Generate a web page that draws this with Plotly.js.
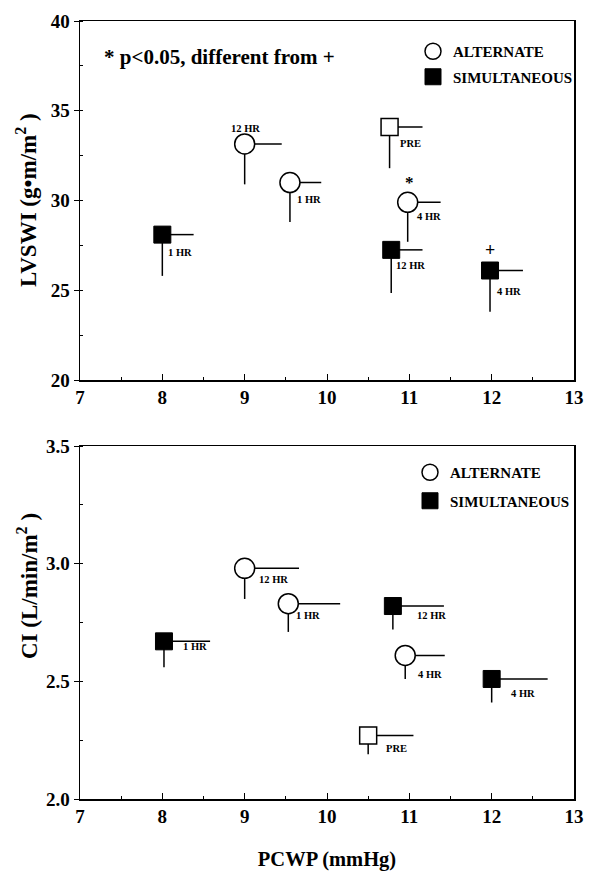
<!DOCTYPE html>
<html>
<head>
<meta charset="utf-8">
<script src="https://cdn.plot.ly/plotly-3.0.1.min.js"></script>
<style>html,body{margin:0;padding:0;background:#fff;}#chart{width:590px;height:871px;}</style>
</head>
<body>
<div id="chart"></div>
<script>
// ---------- DATA ----------
// Top panel: LVSWI vs PCWP
const lvAltPCWP    = [9.0, 9.55, 10.98];
const lvAltLVSWI   = [33.15, 31.0, 29.9];
const lvAltPCWPErr = [0.45, 0.38, 0.40];
const lvAltLVSWIErr= [2.25, 2.2, 2.2];
const lvAltLabels  = ['12 HR', '1 HR', '4 HR'];

const lvSimPCWP    = [8.0, 10.78, 11.98];
const lvSimLVSWI   = [28.1, 27.25, 26.1];
const lvSimPCWPErr = [0.38, 0.38, 0.40];
const lvSimLVSWIErr= [2.3, 2.4, 2.3];
const lvSimLabels  = ['1 HR', '12 HR', '4 HR'];

const lvPrePCWP    = [10.76];
const lvPreLVSWI   = [34.1];
const lvPrePCWPErr = [0.40];
const lvPreLVSWIErr= [2.3];
const lvPreLabels  = ['PRE'];

// Bottom panel: CI vs PCWP
const ciAltPCWP    = [9.0, 9.53, 10.95];
const ciAltCI      = [2.98, 2.83, 2.61];
const ciAltPCWPErr = [0.66, 0.63, 0.48];
const ciAltCIErr   = [0.13, 0.12, 0.10];
const ciAltLabels  = ['12 HR', '1 HR', '4 HR'];

const ciSimPCWP    = [8.02, 10.8, 12.0];
const ciSimCI      = [2.67, 2.82, 2.51];
const ciSimPCWPErr = [0.56, 0.62, 0.68];
const ciSimCIErr   = [0.11, 0.10, 0.10];
const ciSimLabels  = ['1 HR', '12 HR', '4 HR'];

const ciPrePCWP    = [10.5];
const ciPreCI      = [2.27];
const ciPrePCWPErr = [0.55];
const ciPreCIErr   = [0.08];
const ciPreLabels  = ['PRE'];

const xTicks = [7, 8, 9, 10, 11, 12, 13];
const lvTicks = [20, 25, 30, 35, 40];
const ciTicks = [2.0, 2.5, 3.0, 3.5];

// ---------- STYLE ----------
const W = 590, H = 871;
const FAM = 'Liberation Serif, Times New Roman, serif';
const bold = (size) => ({family: FAM, size: size, color: '#000', weight: 700});

// label offsets (px): [dx, dy(down), anchor]
const lvAltOff = [[1, -15, 'center'], [5, 17, 'left'], [7, 14, 'left']];
const lvSimOff = [[4, 18, 'left'], [3, 16, 'left'], [5, 21, 'left']];
const lvPreOff = [[8, 17, 'left']];
const ciAltOff = [[12, 11, 'left'], [6, 12, 'left'], [11, 19, 'left']];
const ciSimOff = [[17, 5, 'left'], [22, 9, 'left'], [17, 15, 'left']];
const ciPreOff = [[16, 13, 'left']];

function zeros(a) { return a.map(() => 0); }

function series(x, y, xe, ye, name, marker, xa, ya, leg, show) {
  return {
    type: 'scatter', mode: 'markers', x: x, y: y, name: name,
    xaxis: xa, yaxis: ya, legend: leg, legendgroup: leg + name, showlegend: show,
    marker: marker,
    error_x: {type: 'data', symmetric: false, array: xe, arrayminus: zeros(xe), width: 0, thickness: 1.5, color: '#000'},
    error_y: {type: 'data', symmetric: false, array: zeros(ye), arrayminus: ye, width: 0, thickness: 1.5, color: '#000'},
    hoverinfo: 'x+y'
  };
}

const openCircle = {symbol: 'circle', size: 20, color: '#fff', line: {color: '#000', width: 1.5}};
const filledSq = {symbol: 'square', size: 17, color: '#000', line: {color: '#000', width: 1}};
const openSq = {symbol: 'square', size: 17, color: '#fff', line: {color: '#000', width: 1.5}};

const data = [
  series(lvAltPCWP, lvAltLVSWI, lvAltPCWPErr, lvAltLVSWIErr, 'ALTERNATE', openCircle, 'x', 'y', 'legend', true),
  series(lvSimPCWP, lvSimLVSWI, lvSimPCWPErr, lvSimLVSWIErr, 'SIMULTANEOUS', filledSq, 'x', 'y', 'legend', true),
  series(lvPrePCWP, lvPreLVSWI, lvPrePCWPErr, lvPreLVSWIErr, 'PRE', openSq, 'x', 'y', 'legend', false),
  series(ciAltPCWP, ciAltCI, ciAltPCWPErr, ciAltCIErr, 'ALTERNATE', openCircle, 'x2', 'y2', 'legend2', true),
  series(ciSimPCWP, ciSimCI, ciSimPCWPErr, ciSimCIErr, 'SIMULTANEOUS', filledSq, 'x2', 'y2', 'legend2', true),
  series(ciPrePCWP, ciPreCI, ciPrePCWPErr, ciPreCIErr, 'PRE', openSq, 'x2', 'y2', 'legend2', false)
];

const annotations = [];
function addLabels(x, y, labels, off, xr, yr) {
  labels.forEach((t, i) => {
    annotations.push({
      x: x[i], y: y[i], xref: xr, yref: yr, text: t, showarrow: false,
      xanchor: off[i][2], yanchor: 'middle', xshift: off[i][0], yshift: -off[i][1],
      font: bold(10.5)
    });
  });
}
addLabels(lvAltPCWP, lvAltLVSWI, lvAltLabels, lvAltOff, 'x', 'y');
addLabels(lvSimPCWP, lvSimLVSWI, lvSimLabels, lvSimOff, 'x', 'y');
addLabels(lvPrePCWP, lvPreLVSWI, lvPreLabels, lvPreOff, 'x', 'y');
addLabels(ciAltPCWP, ciAltCI, ciAltLabels, ciAltOff, 'x2', 'y2');
addLabels(ciSimPCWP, ciSimCI, ciSimLabels, ciSimOff, 'x2', 'y2');
addLabels(ciPrePCWP, ciPreCI, ciPreLabels, ciPreOff, 'x2', 'y2');

// significance marks
annotations.push({x: lvAltPCWP[2], y: lvAltLVSWI[2], xref: 'x', yref: 'y', text: '*', showarrow: false,
  xanchor: 'center', yanchor: 'middle', xshift: 2, yshift: 20, font: bold(17)});
annotations.push({x: lvSimPCWP[2], y: lvSimLVSWI[2], xref: 'x', yref: 'y', text: '+', showarrow: false,
  xanchor: 'center', yanchor: 'middle', xshift: 0, yshift: 21, font: bold(18)});
annotations.push({x: 102 / W, y: 1 - 57 / H, xref: 'paper', yref: 'paper', text: '* p<0.05, different from +',
  showarrow: false, xanchor: 'left', yanchor: 'middle', font: bold(21)});

// y titles
annotations.push({x: 27 / W, y: 1 - 200 / H, xref: 'paper', yref: 'paper', textangle: -90,
  text: 'LVSWI (g\u2022m/m<sup>2</sup> )', showarrow: false, xanchor: 'center', yanchor: 'middle', font: bold(23)});
annotations.push({x: 27 / W, y: 1 - 586 / H, xref: 'paper', yref: 'paper', textangle: -90,
  text: 'CI (L/min/m<sup>2</sup> )', showarrow: false, xanchor: 'center', yanchor: 'middle', font: bold(23)});

const xDomain = [80 / W, 574 / W];
function xAxis(anchor) {
  return {
    domain: xDomain, range: [7, 13], anchor: anchor, tickvals: xTicks, ticktext: xTicks.map(String),
    showline: true, linewidth: 1.5, linecolor: '#000', mirror: true, showgrid: false, zeroline: false,
    ticks: 'inside', ticklen: 6, tickwidth: 1, tickcolor: '#000', tickfont: bold(19),
    minor: {dtick: 0.5, tick0: 7, ticks: 'inside', ticklen: 3, tickwidth: 1, tickcolor: '#000', showgrid: false}
  };
}
function yAxis(anchor, domain, range, ticks, minorStep, fmt) {
  return {
    domain: domain, range: range, anchor: anchor, tickvals: ticks, ticktext: ticks.map(v => v.toFixed(fmt)),
    showline: true, linewidth: 1.5, linecolor: '#000', mirror: true, showgrid: false, zeroline: false,
    ticks: 'outside', ticklen: 5, tickwidth: 1, tickcolor: '#000', tickfont: bold(19),
    minor: {dtick: minorStep, tick0: range[0], ticks: 'inside', ticklen: 3, tickwidth: 1, tickcolor: '#000', showgrid: false}
  };
}

const layout = {
  width: W, height: H,
  margin: {l: 0, r: 0, t: 0, b: 0},
  paper_bgcolor: '#fff', plot_bgcolor: '#fff',
  showlegend: true,
  xaxis: xAxis('y'),
  yaxis: yAxis('x', [1 - 380 / H, 1 - 21 / H], [20, 40], lvTicks, 2.5, 0),
  xaxis2: Object.assign(xAxis('y2'), {title: {text: 'PCWP (mmHg)', font: bold(20.5), standoff: 26}}),
  yaxis2: yAxis('x2', [1 - 799 / H, 1 - 446 / H], [2.0, 3.5], ciTicks, 0.25, 1),
  legend: {x: 413 / W, y: 1 - 35 / H, xanchor: 'left', yanchor: 'top', font: bold(15),
    traceorder: 'grouped', tracegroupgap: 3, bgcolor: 'rgba(0,0,0,0)', itemwidth: 30},
  legend2: {x: 410 / W, y: 1 - 456 / H, xanchor: 'left', yanchor: 'top', font: bold(15),
    traceorder: 'grouped', tracegroupgap: 6, bgcolor: 'rgba(0,0,0,0)', itemwidth: 30},
  annotations: annotations
};

Plotly.newPlot('chart', data, layout, {displayModeBar: false, staticPlot: true});
</script>
</body>
</html>
